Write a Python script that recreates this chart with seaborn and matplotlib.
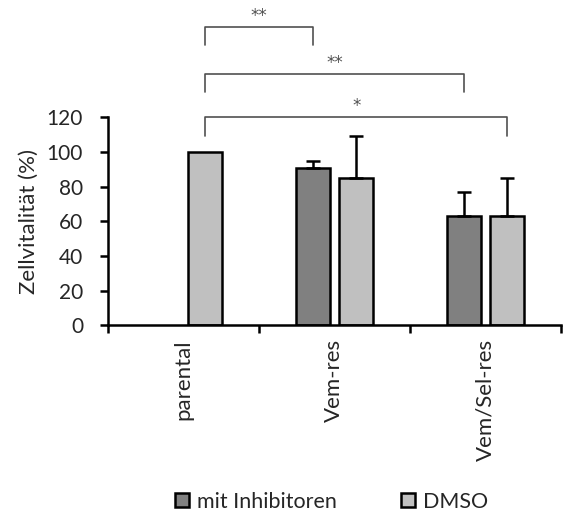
import matplotlib
matplotlib.use("Agg")
import matplotlib.pyplot as plt
import numpy as np
import pandas as pd
import seaborn as sns

categories = ["parental", "Vem-res", "Vem/Sel-res"]
treatments = ["mit Inhibitoren", "DMSO"]
inhibitor_values = [np.nan, 91, 63]
inhibitor_errors = [np.nan, 4, 14]
dmso_values = [100, 85, 63]
dmso_errors = [0, 24, 22]

# significance brackets: (from category, from treatment, to category, to treatment, height, label)
brackets = [
    ("parental", "DMSO", "Vem-res", "mit Inhibitoren", 172, "**"),
    ("parental", "DMSO", "Vem/Sel-res", "mit Inhibitoren", 145, "**"),
    ("parental", "DMSO", "Vem/Sel-res", "DMSO", 120, "*"),
]

colors = {"mit Inhibitoren": "#808080", "DMSO": "#c0c0c0"}

df = pd.DataFrame({
    "Zelllinie": categories * 2,
    "Behandlung": ["mit Inhibitoren"] * 3 + ["DMSO"] * 3,
    "Wert": inhibitor_values + dmso_values,
    "Fehler": inhibitor_errors + dmso_errors,
})

sns.set_style("white")
plt.rcParams["font.family"] = ["Lato", "DejaVu Sans"]

fig = plt.figure(figsize=(5.63, 5.16), dpi=100)
ax = fig.add_axes([0.192, 0.3696, 0.804, 0.403])

sns.barplot(
    data=df.dropna(subset=["Wert"]),
    x="Zelllinie",
    y="Wert",
    hue="Behandlung",
    order=categories,
    hue_order=treatments,
    palette=colors,
    width=0.576,
    gap=0.22,
    errorbar=None,
    edgecolor="black",
    linewidth=1.8,
    legend=False,
    ax=ax,
)

# error bars (upper only) and bar centers
centers = {}
for patch in ax.patches:
    h = patch.get_height()
    if np.isnan(h) or patch.get_width() == 0:
        continue
    xc = patch.get_x() + patch.get_width() / 2
    cat_idx = int(round(xc))
    treat = "mit Inhibitoren" if xc < cat_idx else "DMSO"
    cat = categories[cat_idx]
    centers[(cat, treat)] = xc
    err = df[(df["Zelllinie"] == cat) & (df["Behandlung"] == treat)]["Fehler"].iloc[0]
    if err > 0:
        ax.errorbar(
            xc, h, yerr=[[0], [err]],
            fmt="none", ecolor="black", elinewidth=1.8,
            capsize=5, capthick=1.8, zorder=1,
        )

for c1, t1, c2, t2, y, label in brackets:
    x1 = centers[(c1, t1)]
    x2 = centers[(c2, t2)]
    ax.plot([x1, x1, x2, x2], [y - 10.5, y, y, y - 10.5],
            color="#505050", lw=1.2, clip_on=False)
    ax.text((x1 + x2) / 2, y + 6.5, label, ha="center", va="center",
            fontsize=12, color="#505050", family="DejaVu Sans")

ax.set_xlim(-0.5, 2.5)
ax.set_ylim(0, 120)
ax.set_yticks(range(0, 121, 20))
ax.set_xticks([-0.5, 0.5, 1.5, 2.5], minor=False)
ax.set_xticklabels([])
ax.set_xticks(range(3), minor=True)
ax.set_xticklabels(categories, minor=True, rotation=90, fontsize=16)
ax.tick_params(axis="x", which="major", direction="out", length=6, width=1.8,
               bottom=True, color="black")
ax.tick_params(axis="x", which="minor", length=0, pad=10)
ax.tick_params(axis="y", direction="out", length=6, width=1.8, left=True,
               labelsize=15, color="black", pad=12)
ax.set_xlabel("")
ax.set_ylabel("Zellvitalität (%)", fontsize=16, labelpad=6)

sns.despine(ax=ax)
ax.spines["left"].set_linewidth(1.8)
ax.spines["bottom"].set_linewidth(1.8)
ax.spines["left"].set_color("black")
ax.spines["bottom"].set_color("black")

handles = [
    plt.Rectangle((0, 0), 1, 1, facecolor=colors[t], edgecolor="black", linewidth=1.8)
    for t in treatments
]
fig.legend(handles, treatments, loc="lower left", bbox_to_anchor=(0.311, 0.008),
           ncol=2, frameon=False, fontsize=15.5, handlelength=0.65, handleheight=0.65,
           handletextpad=0.35, columnspacing=3.0, borderpad=0, borderaxespad=0)

fig.savefig("out.png", dpi=100)
